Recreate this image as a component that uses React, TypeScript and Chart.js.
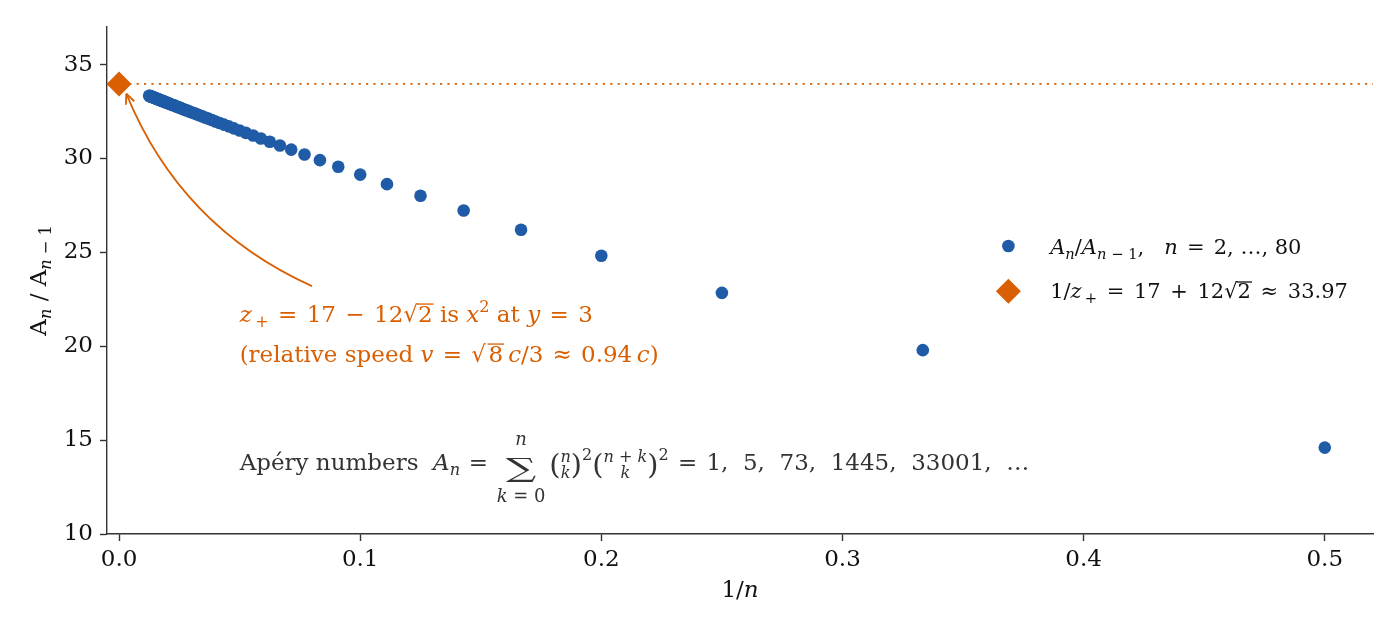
import { useEffect, useRef } from 'react';
import { Chart, registerables, type Plugin } from 'chart.js';

Chart.register(...registerables);

// x = 1/n for n = 2 … 80
const INV_N = [
  0.5, 0.3333, 0.25, 0.2, 0.1667, 0.1429, 0.125, 0.1111, 0.1, 0.0909,
  0.0833, 0.0769, 0.0714, 0.0667, 0.0625, 0.0588, 0.0556, 0.0526, 0.05, 0.0476,
  0.0455, 0.0435, 0.0417, 0.04, 0.0385, 0.037, 0.0357, 0.0345, 0.0333, 0.0323,
  0.0313, 0.0303, 0.0294, 0.0286, 0.0278, 0.027, 0.0263, 0.0256, 0.025, 0.0244,
  0.0238, 0.0233, 0.0227, 0.0222, 0.0217, 0.0213, 0.0208, 0.0204, 0.02, 0.0196,
  0.0192, 0.0189, 0.0185, 0.0182, 0.0179, 0.0175, 0.0172, 0.0169, 0.0167, 0.0164,
  0.0161, 0.0159, 0.0156, 0.0154, 0.0152, 0.0149, 0.0147, 0.0145, 0.0143, 0.0141,
  0.0139, 0.0137, 0.0135, 0.0133, 0.0132, 0.013, 0.0128, 0.0127, 0.0125,
];

// A_n / A_{n-1}, same order as INV_N
const RATIO = [
  14.6, 19.79, 22.84, 24.82, 26.2, 27.23, 28.01, 28.63, 29.14,
  29.56, 29.91, 30.21, 30.47, 30.69, 30.89, 31.06, 31.22, 31.36, 31.49,
  31.6, 31.71, 31.8, 31.89, 31.97, 32.05, 32.12, 32.18, 32.24, 32.3,
  32.35, 32.4, 32.45, 32.49, 32.54, 32.57, 32.61, 32.65, 32.68, 32.71,
  32.74, 32.77, 32.8, 32.83, 32.85, 32.87, 32.9, 32.92, 32.94, 32.96,
  32.98, 33.0, 33.02, 33.04, 33.05, 33.07, 33.08, 33.1, 33.11, 33.13,
  33.14, 33.15, 33.17, 33.18, 33.19, 33.2, 33.22, 33.23, 33.24, 33.25,
  33.26, 33.27, 33.28, 33.29, 33.3, 33.3, 33.31, 33.32, 33.33, 33.34,
];

const LIMIT = 33.97; // 17 + 12√2
const X_TICKS = [0, 0.1, 0.2, 0.3, 0.4, 0.5];
const Y_TICKS = [10, 15, 20, 25, 30, 35];
const X_MIN = -0.005;
const X_MAX = 0.52;
const Y_MIN = 10;
const Y_MAX = 37;

const BLUE = '#1f5ba6';
const ORANGE = '#d95f02';
const INK = '#111111';
const GREY = '#333333';
const FAMILY = "'DejaVu Serif', serif";

// ---- tiny math-ish text layout on canvas ----
type Txt = { t: string; it?: boolean; s?: number; dy?: number; dx?: number; over?: boolean; sx?: number };
type Stack = { rows: Piece[][]; dys: number[] };
type Piece = Txt | Stack;

const rm = (t: string, o: Partial<Txt> = {}): Txt => ({ t, ...o });
const it = (t: string, o: Partial<Txt> = {}): Txt => ({ t, it: true, ...o });
const sub = (t: string, italic = false): Txt => ({ t, it: italic, s: 0.7, dy: 0.22 });
const sup = (t: string): Txt => ({ t, s: 0.7, dy: -0.42 });
// operator with a bit of extra space either side, like mathtext
const op = (t: string, g = 0.1): Txt[] => [rm(' ', { dx: g }), rm(t), rm(' ', { dx: g })];

const fontOf = (px: number, italic?: boolean) => `${italic ? 'italic ' : ''}${px}px ${FAMILY}`;

function rowWidth(ctx: CanvasRenderingContext2D, row: Piece[], size: number): number {
  let w = 0;
  for (const p of row) {
    if ('rows' in p) w += stackWidth(ctx, p, size);
    else {
      ctx.font = fontOf(size * (p.s ?? 1), p.it);
      w += ctx.measureText(p.t).width * (p.sx ?? 1) + (p.dx ?? 0) * size;
    }
  }
  return w;
}

function stackWidth(ctx: CanvasRenderingContext2D, p: Stack, size: number) {
  return Math.max(...p.rows.map((r) => rowWidth(ctx, r, size)));
}

function drawRow(ctx: CanvasRenderingContext2D, row: Piece[], x: number, y: number, size: number) {
  let cx = x;
  for (const p of row) {
    if ('rows' in p) {
      const w = stackWidth(ctx, p, size);
      p.rows.forEach((r, i) => {
        const rw = rowWidth(ctx, r, size);
        drawRow(ctx, r, cx + (w - rw) / 2, y + p.dys[i] * size, size);
      });
      cx += w;
    } else {
      const fs = size * (p.s ?? 1);
      const sx = p.sx ?? 1;
      ctx.font = fontOf(fs, p.it);
      cx += (p.dx ?? 0) * size;
      const yy = y + (p.dy ?? 0) * size;
      if (sx !== 1) {
        ctx.save();
        ctx.translate(cx, yy);
        ctx.scale(sx, 1);
        ctx.fillText(p.t, 0, 0);
        ctx.restore();
      } else {
        ctx.fillText(p.t, cx, yy);
      }
      const w = ctx.measureText(p.t).width * sx;
      if (p.over) ctx.fillRect(cx - 1, yy - 0.8 * fs, w + 2, 1.3);
      cx += w;
    }
  }
  return cx;
}

const LINE_1: Piece[] = [
  it('z'), rm('+', { s: 0.7, dy: 0.22, dx: 0.15 }), ...op('=', 0.09), rm('17'), ...op('−', 0.09), rm('12'),
  rm('√'), rm('2', { over: true }), rm(' is '), it('x'), sup('2'), rm(' at '), it('y'), ...op('=', 0.09), rm('3'),
];
const LINE_2: Piece[] = [
  rm('(relative speed '), it('v'), ...op('=', 0.08), rm('√'), rm('8', { over: true, dx: 0.12 }), rm(' ', { dx: -0.1 }),
  it('c'), rm('/3'), ...op('≈', 0.08), rm('0.94'), rm(' ', { dx: -0.12 }), it('c'), rm(')'),
];
const BINOM_ROW = (top: Piece[]): Piece[] => [
  rm('(', { s: 1.25, dy: 0.18 }),
  { rows: [top, [it('k', { s: 0.7 })]], dys: [-0.35, 0.35] },
  rm(')', { s: 1.25, dy: 0.18 }),
  sup('2'),
];
const APERY: Piece[] = [
  rm('Apéry numbers  '), it('A'), sub('n', true), ...op('=', 0.06),
  {
    rows: [
      [it('n', { s: 0.78 })],
      [rm('∑', { s: 1.15, sx: 1.6, dy: 0.3 })],
      [it('k', { s: 0.78 }), rm(' = 0', { s: 0.78 })],
    ],
    dys: [-1.09, 0, 1.39],
  },
  rm(' ', { dx: -0.15 }),
  ...BINOM_ROW([it('n', { s: 0.7 })]),
  ...BINOM_ROW([it('n', { s: 0.7 }), rm(' + ', { s: 0.7 }), it('k', { s: 0.7 })]),
  ...op('=', 0.08),
  rm('1,  5,  73,  1445,  33001,  …'),
];
const LEGEND_1: Piece[] = [
  it('A'), sub('n', true), rm('/'), it('A'), sub('n', true), sub(' − 1'), rm(',   '), it('n'), ...op('=', 0.12),
  rm('2, …, 80'),
];
const LEGEND_2: Piece[] = [
  rm('1/'), it('z'), rm('+', { s: 0.7, dy: 0.22, dx: 0.15 }), ...op('=', 0.14), rm('17'), ...op('+', 0.14), rm('12'),
  rm('√'), rm('2', { over: true }), ...op('≈', 0.14), rm('33.97'),
];
const Y_TITLE: Piece[] = [rm('A'), sub('n', true), rm(' / '), rm('A'), sub('n', true), sub(' − 1')];
const X_TITLE: Piece[] = [rm('1/'), it('n')];

const annotate: Plugin<'scatter'> = {
  id: 'annotate',
  afterDraw(chart) {
    const { ctx, chartArea: a } = chart;
    const xs = chart.scales.x;
    const ys = chart.scales.y;
    const px = (v: number) => xs.getPixelForValue(v);
    const py = (v: number) => ys.getPixelForValue(v);
    ctx.save();
    ctx.textBaseline = 'alphabetic';

    // curved arrow pointing at the limit
    const x0 = px(0.08), y0 = py(23.2);
    const x1 = px(0.003), y1 = py(33.45);
    const dx = x1 - x0, dy = y1 - y0;
    const cx = (x0 + x1) / 2 + 0.2 * dy;
    const cy = (y0 + y1) / 2 - 0.2 * dx;
    ctx.strokeStyle = ORANGE;
    ctx.lineWidth = 1.8;
    ctx.beginPath();
    ctx.moveTo(x0, y0);
    ctx.quadraticCurveTo(cx, cy, x1, y1);
    ctx.stroke();
    const ang = Math.atan2(y1 - cy, x1 - cx);
    ctx.beginPath();
    for (const s of [-1, 1]) {
      ctx.moveTo(x1, y1);
      ctx.lineTo(x1 - 11 * Math.cos(ang + s * 0.42), y1 - 11 * Math.sin(ang + s * 0.42));
    }
    ctx.stroke();

    // annotation text
    ctx.fillStyle = ORANGE;
    drawRow(ctx, LINE_1, px(0.05), py(21.3), 23);
    drawRow(ctx, LINE_2, px(0.05), py(19.17), 23);
    ctx.fillStyle = GREY;
    drawRow(ctx, APERY, px(0.05), py(13.41), 23);

    // legend
    const lx = a.left + 0.712 * a.width;
    const tx = a.left + 0.745 * a.width;
    const r1 = a.top + 0.432 * a.height;
    const r2 = a.top + 0.521 * a.height;
    ctx.fillStyle = BLUE;
    ctx.beginPath();
    ctx.arc(lx, r1, 6.3, 0, Math.PI * 2);
    ctx.fill();
    ctx.fillStyle = ORANGE;
    ctx.beginPath();
    ctx.moveTo(lx, r2 - 12.5);
    ctx.lineTo(lx + 12.5, r2);
    ctx.lineTo(lx, r2 + 12.5);
    ctx.lineTo(lx - 12.5, r2);
    ctx.closePath();
    ctx.fill();
    ctx.fillStyle = INK;
    drawRow(ctx, LEGEND_1, tx, r1 + 8, 21);
    drawRow(ctx, LEGEND_2, tx, r2 + 7, 21);

    // axis titles
    const xw = rowWidth(ctx, X_TITLE, 23);
    drawRow(ctx, X_TITLE, (a.left + a.right) / 2 - xw / 2, a.bottom + 63, 23);
    const yw = rowWidth(ctx, Y_TITLE, 23);
    ctx.translate(46, (a.top + a.bottom) / 2);
    ctx.rotate(-Math.PI / 2);
    drawRow(ctx, Y_TITLE, -yw / 2, 0, 23);
    ctx.restore();
  },
};

export default function App() {
  const canvasRef = useRef<HTMLCanvasElement>(null);

  useEffect(() => {
    document.body.style.margin = '0';
    if (!canvasRef.current) return;
    const tickFont = { family: FAMILY, size: 23 };
    const axisGrid = {
      display: true,
      drawOnChartArea: false,
      drawTicks: true,
      tickLength: 7,
      tickColor: GREY,
      tickWidth: 1.4,
    };
    const axisBorder = { display: true, color: GREY, width: 1.4 };

    const chart = new Chart(canvasRef.current, {
      type: 'scatter',
      data: {
        datasets: [
          {
            label: 'A_n/A_{n-1}',
            data: INV_N.map((x, i) => ({ x, y: RATIO[i] })),
            backgroundColor: BLUE,
            borderWidth: 0,
            pointRadius: 6.3,
          },
          {
            label: '1/z+',
            data: [{ x: 0, y: LIMIT }],
            pointStyle: 'rectRot',
            backgroundColor: ORANGE,
            borderWidth: 0,
            pointRadius: 12.5,
            clip: false,
          },
          {
            label: 'limit',
            type: 'line',
            data: [
              { x: X_MIN, y: LIMIT },
              { x: X_MAX, y: LIMIT },
            ],
            borderColor: ORANGE,
            borderWidth: 1.8,
            borderDash: [2.2, 5.2],
            pointRadius: 0,
            fill: false,
          },
        ],
      },
      options: {
        animation: false,
        responsive: false,
        events: [],
        layout: { padding: { top: 27, right: 27, left: 0, bottom: 0 } },
        plugins: { legend: { display: false }, tooltip: { enabled: false } },
        scales: {
          x: {
            type: 'linear',
            min: X_MIN,
            max: X_MAX,
            afterFit: (s) => {
              s.height = 96;
            },
            afterBuildTicks: (s) => {
              s.ticks = X_TICKS.map((value) => ({ value }));
            },
            ticks: { font: tickFont, color: INK, padding: 5, callback: (v) => Number(v).toFixed(1) },
            grid: axisGrid,
            border: axisBorder,
          },
          y: {
            type: 'linear',
            min: Y_MIN,
            max: Y_MAX,
            afterFit: (s) => {
              s.width = 107;
            },
            afterBuildTicks: (s) => {
              s.ticks = Y_TICKS.map((value) => ({ value }));
            },
            ticks: { font: tickFont, color: INK, padding: 7, callback: (v) => String(v) },
            grid: axisGrid,
            border: axisBorder,
          },
        },
      },
      plugins: [annotate],
    });

    return () => chart.destroy();
  }, []);

  return (
    <div style={{ width: 1400, height: 630, background: '#fff' }}>
      <canvas ref={canvasRef} width={1400} height={630} />
    </div>
  );
}
